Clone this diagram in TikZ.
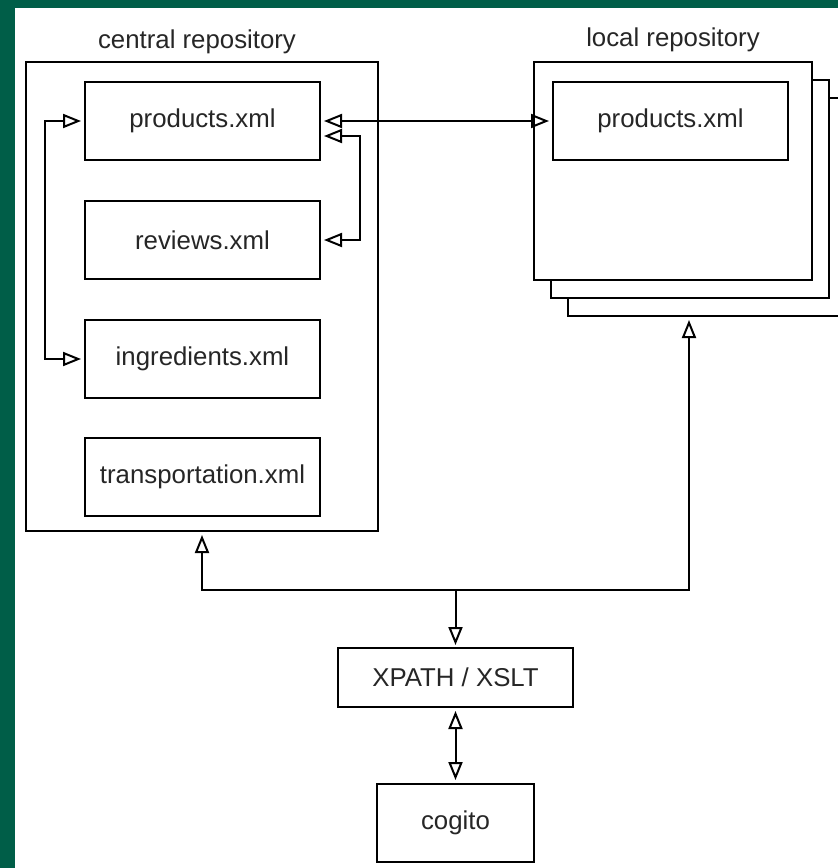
\documentclass[tikz,border=0pt]{standalone}
\usepackage{fontspec}
\setmainfont{Liberation Sans}
\usetikzlibrary{arrows.meta, positioning, calc}
\definecolor{frame}{RGB}{0,94,72}

\begin{document}
\begin{tikzpicture}[x=1pt, y=-1pt, line width=2pt,
    font=\fontsize{25.8}{31}\selectfont, text=black!85,
    >={Triangle[open, length=18pt, width=14pt]},
    file/.style={draw, fill=white, minimum width=235pt, minimum height=78pt, inner sep=0pt},
    repo/.style={draw, fill=white, inner sep=0pt, minimum width=278pt, minimum height=218pt},
    conn/.style={shorten >=3pt, shorten <=3pt}]
    \useasboundingbox (0,0) rectangle (838,868);
    \fill[frame] (0,0) rectangle (838,868);
    \fill[white] (15,8) rectangle (838,868);

    \node (ctitle) at (197,42) {central repository};
    \node[repo, minimum width=352pt, minimum height=469pt] (crepo) at (202,296.5) {};
    \node[file] (cprod) at (202.5,121) {products.xml};
    \node[file, below=39pt of cprod] (crev) {reviews.xml};
    \node[file, below=39pt of crev] (cing) {ingredients.xml};
    \node[file, below=38pt of cing] (ctrans) {transportation.xml};

    \node[repo] (lrepoc) at (707,207) {};
    \node[repo] (lrepob) at (690,189) {};
    \node[repo] (lrepo) at (673,171) {};
    \node[file] (lprod) at (670.5,121) {products.xml};
    \node (ltitle) at (673,40) {local repository};

    \node[file, minimum height=59pt] (xslt) at (455.5,677.5) {XPATH / XSLT};
    \node[file, minimum width=157pt] (cogito) at (455.5,823) {cogito};

    \draw[<->, conn] (cprod.west) -- ++(-39,0) |- (cing.west);
    \draw[<->, conn] ([yshift=-15pt]cprod.east) -- ++(39,0) |- (crev.east);
    \draw[<->, conn] (cprod.east) -- (lprod.west);

    \coordinate (bus) at (xslt.north |- 0,590);
    \coordinate (ltap) at ([xshift=122pt]lrepoc.south west);
    \draw[->, shorten >=3pt] (bus) -| (crepo.south);
    \draw[->, shorten >=3pt] (bus) -| (ltap);
    \draw[->, shorten >=2pt] (bus) -- (xslt.north);
    \draw[<->, conn] (xslt) -- (cogito);
\end{tikzpicture}
\end{document}
